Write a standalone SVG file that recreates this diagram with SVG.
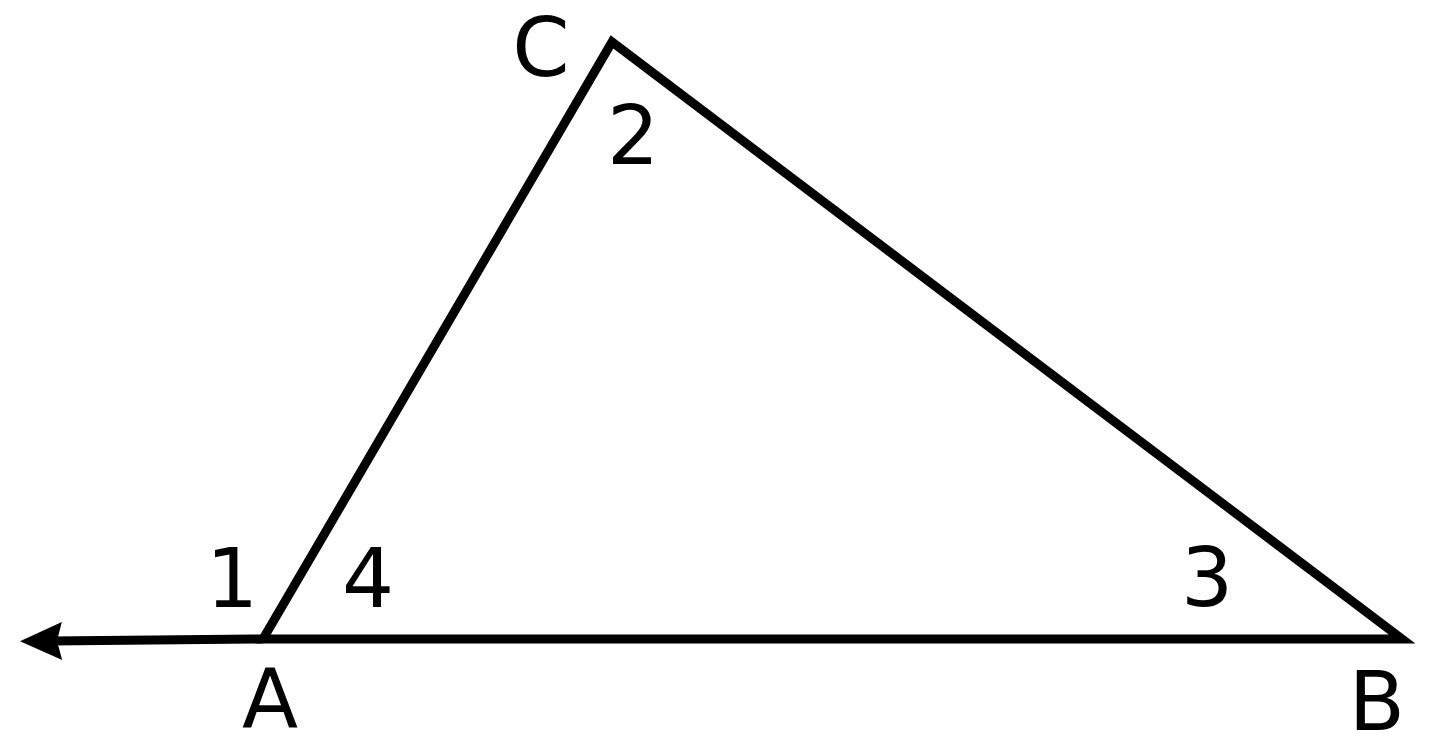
<svg xmlns="http://www.w3.org/2000/svg" width="1440" height="749" viewBox="0 0 1440 749">
<style>
.ln{stroke:#000;stroke-width:9;fill:none;stroke-linejoin:miter}
.lb{font-family:"DejaVu Sans","Liberation Sans",sans-serif;font-size:82px;fill:#000;text-anchor:middle}
</style>
<defs>
<marker id="ah" markerUnits="userSpaceOnUse" markerWidth="50" markerHeight="40" refX="14" refY="20" orient="auto" viewBox="0 0 50 40">
<path d="M44,20 L2,1 L7,20 L2,39 Z" fill="#000"/>
</marker>
</defs>
<rect width="1440" height="749" fill="#fff"/>
<g id="connectors">
<path class="ln" d="M263,639 L612,42 L1402,639 Z"/>
<line class="ln" x1="263" y1="639" x2="50" y2="641" marker-end="url(#ah)"/>
</g>
<g id="A"><text class="lb" x="270" y="727">A</text></g>
<g id="B"><text class="lb" x="1377" y="730">B</text></g>
<g id="C"><text class="lb" x="541" y="76">C</text></g>
<g id="a1"><text class="lb" x="232" y="607">1</text></g>
<g id="a2"><text class="lb" x="633" y="164">2</text></g>
<g id="a3"><text class="lb" x="1207" y="606">3</text></g>
<g id="a4"><text class="lb" x="368" y="607">4</text></g>
</svg>
